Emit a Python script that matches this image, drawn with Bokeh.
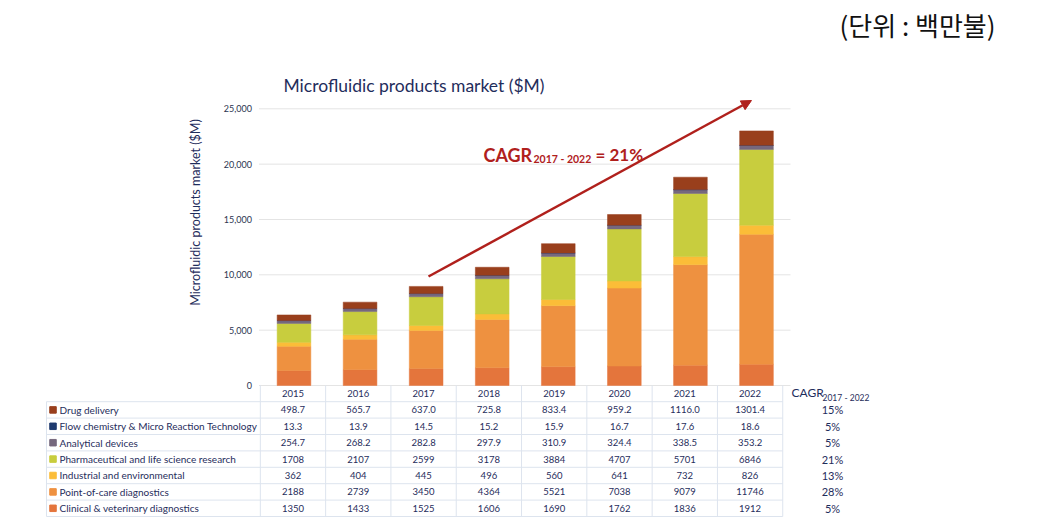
from math import pi
from bokeh.plotting import figure
from bokeh.models import (Range1d, LinearAxis, FixedTicker, Arrow, NormalHead,
                          ColumnDataSource, NumeralTickFormatter)
from bokeh.core.properties import value
from bokeh.embed import file_html
from bokeh.resources import INLINE

# ---------------- data ----------------
years = ["2015", "2016", "2017", "2018", "2019", "2020", "2021", "2022"]
categories = [
    "Drug delivery",
    "Flow chemistry & Micro Reaction Technology",
    "Analytical devices",
    "Pharmaceutical and life science research",
    "Industrial and environmental",
    "Point-of-care diagnostics",
    "Clinical & veterinary diagnostics",
]
drug_delivery = [498.7, 565.7, 637.0, 725.8, 833.4, 959.2, 1116.0, 1301.4]
flow_chemistry = [13.3, 13.9, 14.5, 15.2, 15.9, 16.7, 17.6, 18.6]
analytical_devices = [254.7, 268.2, 282.8, 297.9, 310.9, 324.4, 338.5, 353.2]
pharma_research = [1708, 2107, 2599, 3178, 3884, 4707, 5701, 6846]
industrial_env = [362, 404, 445, 496, 560, 641, 732, 826]
point_of_care = [2188, 2739, 3450, 4364, 5521, 7038, 9079, 11746]
clinical_vet = [1350, 1433, 1525, 1606, 1690, 1762, 1836, 1912]
cagr = ["15%", "5%", "5%", "21%", "13%", "28%", "5%"]
y_ticks = [0, 5000, 10000, 15000, 20000, 25000]
title_text = "Microfluidic products market ($M)"
unit_text = "(단위 : 백만불)"

series = [drug_delivery, flow_chemistry, analytical_devices, pharma_research,
          industrial_env, point_of_care, clinical_vet]
decimals = [1, 1, 1, 0, 0, 0, 0]
colors = ["#993f1c", "#1f3a6e", "#76687e", "#c8cd3e", "#fbbd38", "#ee9140", "#e4753c"]

NAVY = "#1f2d5c"
RED = "#b0201c"
FONT = "Lato"

# ---------------- figure ----------------
p = figure(width=1030, height=520,
           x_range=Range1d(-4.442, 11.147), y_range=Range1d(-12197, 34785),
           output_backend="svg", toolbar_location=None,
           x_axis_location=None, y_axis_location=None, min_border=0)
p.extra_x_ranges = {"tbl": Range1d(-4.479, 11.294)}
p.extra_y_ranges = {"tbl": Range1d(-7.744, 23.963)}
p.grid.visible = False
p.outline_line_color = None

# y axis placed at left edge of bar area
yax = LinearAxis(fixed_location=-0.5, bounds=(0, 25000),
                 ticker=FixedTicker(ticks=y_ticks),
                 formatter=NumeralTickFormatter(format="0,0"),
                 axis_line_color=None, major_tick_line_color=None,
                 minor_tick_line_color=None, major_tick_out=0, major_tick_in=0,
                 major_label_standoff=9,
                 major_label_text_font=FONT, major_label_text_font_size="9px",
                 major_label_text_color="#2b3550")
p.add_layout(yax, "left")

# horizontal gridlines
p.segment(x0=[-0.53] * len(y_ticks), x1=[7.515] * len(y_ticks),
          y0=y_ticks, y1=y_ticks, line_color="#e4e4e4", line_width=1)

# stacked bars
src = ColumnDataSource(dict(
    x=list(range(len(years))),
    clinical=clinical_vet, poc=point_of_care, industrial=industrial_env,
    pharma=pharma_research, analytical=analytical_devices,
    flow=flow_chemistry, drug=drug_delivery))
stack_keys = ["clinical", "poc", "industrial", "pharma", "analytical", "flow", "drug"]
stack_colors = [colors[6], colors[5], colors[4], colors[3], colors[2], colors[1], colors[0]]
p.vbar_stack(stack_keys, x="x", width=0.51, color=stack_colors, source=src,
             line_width=0.5)

# chart title
p.text(x=[-0.159], y=[27105], text=[title_text], text_font=value(FONT),
       text_font_size="17.5px", text_color=NAVY, text_align="left",
       text_baseline="middle")

# y-axis title (rotated)
p.text(x=[-1.491], y=[15631], text=[title_text], angle=pi / 2,
       text_font=value(FONT), text_font_size="12.5px", text_color=NAVY,
       text_align="center", text_baseline="middle")

# CAGR arrow + annotation
p.add_layout(Arrow(end=NormalHead(size=10, fill_color=RED, line_color=RED),
                   x_start=2.036, y_start=9848, x_end=6.924, y_end=25750,
                   line_color=RED, line_width=2.5))
p.text(x=[2.868], y=[20781], text=["CAGR"], text_font=value(FONT),
       text_font_size="18px", text_font_style="bold", text_color=RED,
       text_align="left", text_baseline="alphabetic")
p.text(x=[3.625], y=[20483], text=["2017 - 2022"], text_font=value(FONT),
       text_font_size="10.5px", text_font_style="bold", text_color=RED,
       text_align="left", text_baseline="alphabetic")
p.text(x=[4.563], y=[20871], text=["= 21%"], text_font=value(FONT),
       text_font_size="17px", text_font_style="bold", text_color=RED,
       text_align="left", text_baseline="alphabetic")

# unit text
p.text(x=[9.437], y=[32600], text=[unit_text], text_font=value("Noto Sans CJK KR"),
       text_font_size="26px", text_color="#111111", text_align="center",
       text_baseline="middle")

# ---------------- data table ----------------
n_rows = len(categories)
n_cols = len(years)
tbl = dict(x_range_name="tbl", y_range_name="tbl")
LINE = "#dde4ee"

# horizontal lines between rows
hy = [-(r + 0.5) for r in range(n_rows + 1)]
p.segment(x0=[-3.775] * len(hy), x1=[n_cols - 0.5] * len(hy), y0=hy, y1=hy,
          line_color=LINE, line_width=1, **tbl)
# vertical lines between columns
vx = [c - 0.5 for c in range(n_cols + 1)]
p.segment(x0=vx, x1=vx, y0=[0.5] * len(vx), y1=[-(n_rows + 0.5)] * len(vx),
          line_color=LINE, line_width=1, **tbl)
# left border of the label column
p.segment(x0=[-3.775], x1=[-3.775], y0=[-0.5], y1=[-(n_rows + 0.5)],
          line_color=LINE, line_width=1, **tbl)

# header years
p.text(x=list(range(n_cols)), y=[0] * n_cols, text=years, text_font=value(FONT),
       text_font_size="9.5px", text_color=NAVY, text_align="center",
       text_baseline="middle", **tbl)

# cells
cx, cy, ct = [], [], []
for r, (vals, d) in enumerate(zip(series, decimals)):
    for c, v in enumerate(vals):
        cx.append(c)
        cy.append(-(r + 1))
        ct.append(f"{v:.{d}f}")
p.text(x=cx, y=cy, text=ct, text_font=value(FONT), text_font_size="9.5px",
       text_color=NAVY, text_align="center", text_baseline="middle", **tbl)

# row labels with colour squares
ry = [-(r + 1) for r in range(n_rows)]
p.scatter(x=[-3.675] * n_rows, y=ry, marker="square", size=6.5, color=colors, **tbl)
p.text(x=[-3.575] * n_rows, y=ry, text=categories, text_font=value(FONT),
       text_font_size="10px", text_color=NAVY, text_align="left",
       text_baseline="middle", **tbl)

# CAGR column
p.text(x=[7.634], y=[0.05], text=["CAGR"], text_font=value(FONT),
       text_font_size="12px", text_color=NAVY, text_align="left",
       text_baseline="middle", **tbl)
p.text(x=[8.109], y=[-0.28], text=["2017 - 2022"], text_font=value(FONT),
       text_font_size="8.5px", text_color=NAVY, text_align="left",
       text_baseline="middle", **tbl)
p.text(x=[8.262] * n_rows, y=ry, text=cagr, text_font=value(FONT),
       text_font_size="11px", text_color=NAVY, text_align="center",
       text_baseline="middle", **tbl)

open("out.html", "w").write(file_html(p, INLINE))
